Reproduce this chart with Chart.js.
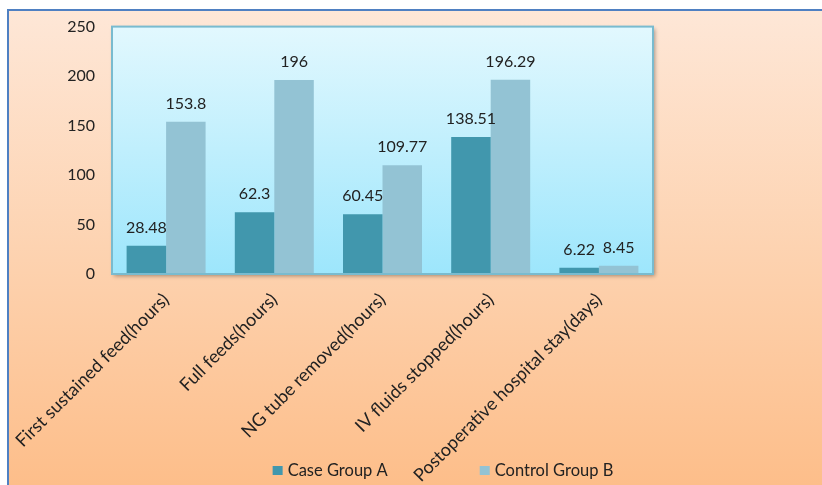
<!DOCTYPE html>
<html>
<head>
<meta charset="utf-8">
<script src="https://cdn.jsdelivr.net/npm/chart.js@4.4.1/dist/chart.umd.min.js"></script>
<style>
  html, body { margin: 0; padding: 0; background: #ffffff; }
  body { width: 822px; height: 485px; position: relative; overflow: hidden; }
  #frame {
    position: absolute; left: 7px; top: 9px; right: 0; bottom: 0;
    border-top: 2.5px solid #4f80c2; border-left: 2.5px solid #4f80c2;
    background: linear-gradient(to bottom, #fee7d7 0%, #fdd3b1 50%, #fdbe8a 100%);
  }
  #wrap { position: absolute; left: 0; top: 0; width: 822px; height: 485px; }
</style>
</head>
<body>
<div id="frame"></div>
<div id="wrap"><canvas id="chart" width="822" height="485"></canvas></div>
<script>
// Recovery outcomes by group
const categories = [
  'First sustained feed(hours)',
  'Full feeds(hours)',
  'NG tube removed(hours)',
  'IV fluids stopped(hours)',
  'Postoperative hospital stay(days)'
];
const caseGroupA = [28.48, 62.3, 60.45, 138.51, 6.22];
const controlGroupB = [153.8, 196, 109.77, 196.29, 8.45];
const seriesNames = ['Case Group A', 'Control Group B'];
const yTicks = [0, 50, 100, 150, 200, 250];

const FONT = 'Lato, "Liberation Sans", sans-serif';
const TEXT = '#222222';

// Gradient panel, border and soft shadow behind the bars
const plotPanel = {
  id: 'plotPanel',
  beforeDatasetsDraw(chart) {
    const { ctx, chartArea: a } = chart;
    ctx.save();
    ctx.shadowColor = 'rgba(0,0,0,0.35)';
    ctx.shadowBlur = 4;
    ctx.shadowOffsetX = 2;
    ctx.shadowOffsetY = 2;
    const g = ctx.createLinearGradient(0, a.top, 0, a.bottom);
    g.addColorStop(0, '#e2f8fe');
    g.addColorStop(1, '#9de6fc');
    ctx.fillStyle = g;
    ctx.fillRect(a.left, a.top, a.right - a.left, a.bottom - a.top);
    ctx.restore();
  },
  afterDatasetsDraw(chart) {
    const { ctx, chartArea: a } = chart;
    ctx.save();
    ctx.strokeStyle = '#79bbcf';
    ctx.lineWidth = 2;
    ctx.strokeRect(a.left, a.top, a.right - a.left, a.bottom - a.top);
    ctx.restore();
  }
};

// Value printed above each bar
const valueLabels = {
  id: 'valueLabels',
  afterDatasetsDraw(chart) {
    const { ctx } = chart;
    ctx.save();
    ctx.font = '16px ' + FONT;
    ctx.fillStyle = TEXT;
    ctx.textAlign = 'center';
    ctx.textBaseline = 'alphabetic';
    chart.data.datasets.forEach((ds, i) => {
      chart.getDatasetMeta(i).data.forEach((bar, j) => {
        ctx.fillText(String(ds.data[j]), bar.x, bar.y - 13);
      });
    });
    ctx.restore();
  }
};

// Legend row along the bottom edge
const bottomLegend = {
  id: 'bottomLegend',
  afterDraw(chart) {
    const { ctx } = chart;
    const box = 10, gapText = 5, gapItems = 92, centerX = 443, baseY = 476;
    ctx.save();
    ctx.font = '16.5px ' + FONT;
    ctx.textBaseline = 'alphabetic';
    ctx.textAlign = 'left';
    const items = chart.data.datasets.map(ds => ({
      text: ds.label, color: ds.backgroundColor,
      w: box + gapText + ctx.measureText(ds.label).width
    }));
    const total = items.reduce((s, it) => s + it.w, 0) + gapItems * (items.length - 1);
    let x = centerX - total / 2;
    items.forEach(it => {
      ctx.fillStyle = it.color;
      ctx.fillRect(x, baseY - 10, box, box - 1);
      ctx.fillStyle = TEXT;
      ctx.fillText(it.text, x + box + gapText, baseY);
      x += it.w + gapItems;
    });
    ctx.restore();
  }
};

new Chart(document.getElementById('chart'), {
  type: 'bar',
  data: {
    labels: categories,
    datasets: [
      { label: seriesNames[0], data: caseGroupA, backgroundColor: '#4197ad',
        categoryPercentage: 0.73, barPercentage: 1.0 },
      { label: seriesNames[1], data: controlGroupB, backgroundColor: '#93c3d4',
        categoryPercentage: 0.73, barPercentage: 1.0 }
    ]
  },
  options: {
    responsive: false,
    animation: false,
    devicePixelRatio: 1,
    layout: { padding: { top: 26, right: 169, bottom: 0, left: 0 } },
    plugins: {
      legend: { display: false },
      tooltip: { enabled: false }
    },
    scales: {
      x: {
        grid: { display: false, drawTicks: false },
        border: { display: false },
        ticks: {
          minRotation: 45, maxRotation: 45, autoSkip: false,
          padding: 15, color: TEXT, font: { family: FONT, size: 18 }
        },
        afterFit(scale) {
          scale.height = 211;
          scale.paddingLeft = 0;
          scale.paddingRight = 0;
        }
      },
      y: {
        min: 0, max: 250,
        afterBuildTicks(scale) { scale.ticks = yTicks.map(v => ({ value: v })); },
        grid: { display: false, drawTicks: false },
        border: { display: false },
        ticks: { padding: 17, color: TEXT, font: { family: FONT, size: 16 } },
        afterFit(scale) { scale.width = 112; }
      }
    }
  },
  plugins: [plotPanel, valueLabels, bottomLegend]
});
</script>
</body>
</html>
